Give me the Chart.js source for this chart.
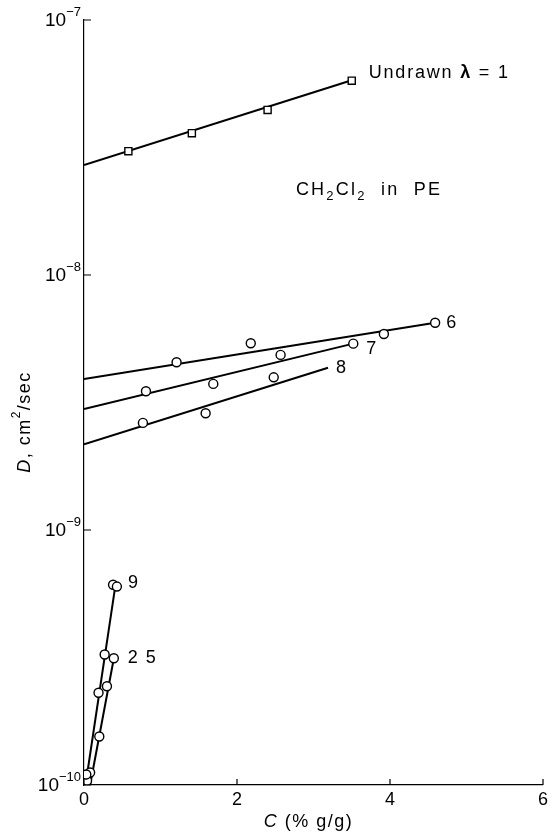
<!DOCTYPE html>
<html>
<head>
<meta charset="utf-8">
<script src="https://cdn.jsdelivr.net/npm/chart.js@4.4.0/dist/chart.umd.min.js"></script>
<style>
html, body { margin: 0; padding: 0; background: #fff; }
#wrap { width: 552px; height: 836px; }
</style>
</head>
<body>
<div id="wrap"><canvas id="diffusion"></canvas></div>
<script>
"use strict";

var FONT = "'Liberation Sans', 'DejaVu Sans', sans-serif";

// axis ticks
var xTicks = [0, 2, 4, 6];
var yTicks = [1e-10, 1e-9, 1e-8, 1e-7];

// undrawn, lambda = 1 (squares)
var undrawnC = [0.58, 1.41, 2.40, 3.50];
var undrawnD = [3.06e-8, 3.6e-8, 4.44e-8, 5.78e-8];
var undrawnFitC = [0, 3.50];
var undrawnFitD = [2.7e-8, 5.8e-8];

// draw ratio 6
var r6C = [1.21, 2.18, 3.92, 4.59];
var r6D = [4.55e-9, 5.4e-9, 5.87e-9, 6.5e-9];
var r6FitC = [0, 4.59];
var r6FitD = [3.91e-9, 6.5e-9];

// draw ratio 7
var r7C = [0.81, 1.69, 2.57, 3.52];
var r7D = [3.5e-9, 3.74e-9, 4.86e-9, 5.38e-9];
var r7FitC = [0, 3.52];
var r7FitD = [2.98e-9, 5.38e-9];

// draw ratio 8
var r8C = [0.77, 1.59, 2.48];
var r8D = [2.63e-9, 2.87e-9, 3.97e-9];
var r8FitC = [0, 3.19];
var r8FitD = [2.17e-9, 4.33e-9];

// draw ratio 9
var r9C = [0.38, 0.43, 0.27, 0.19, 0.03];
var r9D = [6.1e-10, 6.0e-10, 3.25e-10, 2.3e-10, 1.1e-10];
var r9FitC = [0.02, 0.41];
var r9FitD = [1.0e-10, 6.05e-10];

// draw ratio 25
var r25C = [0.39, 0.30, 0.20, 0.08, 0.04];
var r25D = [3.14e-10, 2.44e-10, 1.55e-10, 1.12e-10, 1.04e-10];
var r25FitC = [0.08, 0.39];
var r25FitD = [1.0e-10, 3.14e-10];

function pts(cs, ds) {
    var out = [];
    for (var i = 0; i < cs.length && i < ds.length; i++) {
        out.push({x: cs[i], y: ds[i]});
    }
    return out;
}

function fitLine(cs, ds) {
    return {
        type: 'line',
        data: pts(cs, ds),
        showLine: true,
        borderColor: '#000',
        borderWidth: 2,
        pointRadius: 0,
        fill: false,
        order: 2
    };
}

function marks(cs, ds, style) {
    return {
        type: 'scatter',
        data: pts(cs, ds),
        showLine: false,
        pointStyle: style,
        pointRadius: style === 'rect' ? 5 : 4.5,
        pointBackgroundColor: '#fff',
        pointBorderColor: '#000',
        pointBorderWidth: 1.4,
        order: 1
    };
}

function f(size, style) {
    return (style ? style + ' ' : '') + size + 'px ' + FONT;
}

// draws a row of text pieces (font / vertical shift), aligned on x
function drawRuns(ctx, runs, x, y, align, spacing) {
    ctx.letterSpacing = (spacing || 0) + 'px';
    var w = 0;
    runs.forEach(function (r) { ctx.font = r.f; w += ctx.measureText(r.t).width; });
    var cx = align === 'center' ? x - w / 2 : (align === 'right' ? x - w : x);
    ctx.textAlign = 'left';
    runs.forEach(function (r) {
        ctx.font = r.f;
        ctx.fillText(r.t, cx, y + (r.dy || 0));
        cx += ctx.measureText(r.t).width;
    });
    ctx.letterSpacing = '0px';
}

// inward tick marks, power labels, titles and curve labels
var decorations = {
    id: 'decorations',
    afterDatasetsDraw: function (chart) {
        var ctx = chart.ctx, xs = chart.scales.x, ys = chart.scales.y;
        ctx.save();
        ctx.strokeStyle = '#000';
        ctx.lineWidth = 1.2;
        ctx.beginPath();
        xTicks.forEach(function (v) {
            var px = xs.getPixelForValue(v);
            ctx.moveTo(px, ys.bottom);
            ctx.lineTo(px, ys.bottom - 6);
        });
        yTicks.forEach(function (v) {
            var py = ys.getPixelForValue(v);
            ctx.moveTo(xs.left, py);
            ctx.lineTo(xs.left + 7, py);
        });
        ctx.stroke();

        ctx.fillStyle = '#000';
        ctx.textBaseline = 'middle';

        // y tick labels 10^n
        yTicks.forEach(function (v) {
            var e = String(Math.round(Math.log10(v)));
            var py = ys.getPixelForValue(v);
            drawRuns(ctx, [{t: '10', f: f(19)}, {t: e.replace('-', '\u2212'), f: f(13), dy: -9}],
                     xs.left - 3, py + 1, 'right', 0);
        });

        // axis titles
        drawRuns(ctx, [{t: 'C', f: f(18, 'italic')}, {t: ' (% g/g)', f: f(18)}],
                 (xs.left + xs.right) / 2 - 5, 822, 'center', 1.5);
        ctx.save();
        ctx.translate(25, 422);
        ctx.rotate(-Math.PI / 2);
        drawRuns(ctx, [{t: 'D', f: f(18, 'italic')}, {t: ', cm', f: f(18)},
                       {t: '2', f: f(12), dy: -8}, {t: '/sec', f: f(18)}], 0, 0, 'center', 1.5);
        ctx.restore();

        function at(c, d, dx, dy, text) {
            drawRuns(ctx, [{t: text, f: f(18)}], xs.getPixelForValue(c) + dx, ys.getPixelForValue(d) + dy, 'left', 0);
        }
        at(r6C[3], r6D[3], 11, 0, '6');
        at(r7C[3], r7D[3], 13, 5, '7');
        at(r8FitC[1], r8FitD[1], 8, 0, '8');
        at(r9C[1], r9D[1], 11, -4, '9');
        drawRuns(ctx, [{t: '2 5', f: f(18)}], xs.getPixelForValue(r25C[0]) + 14,
                 ys.getPixelForValue(r25D[0]), 'left', 1.5);

        // Undrawn lambda = 1
        drawRuns(ctx, [{t: 'Undrawn ', f: f(18)}, {t: '\u03BB', f: f(18, 'bold')}, {t: ' = 1', f: f(18)}],
                 xs.getPixelForValue(undrawnC[3]) + 17, ys.getPixelForValue(undrawnD[3]) - 8, 'left', 1.8);

        // CH2Cl2 in PE
        drawRuns(ctx, [{t: 'CH', f: f(18)}, {t: '2', f: f(13), dy: 6}, {t: 'Cl', f: f(18)},
                       {t: '2', f: f(13), dy: 6}, {t: '  in  PE', f: f(18)}],
                 xs.getPixelForValue(2.77), ys.getPixelForValue(2.15e-8), 'left', 2.2);
        ctx.restore();
    }
};

new Chart(document.getElementById('diffusion').getContext('2d'), {
    type: 'scatter',
    data: {
        datasets: [
            fitLine(undrawnFitC, undrawnFitD), marks(undrawnC, undrawnD, 'rect'),
            fitLine(r6FitC, r6FitD), marks(r6C, r6D, 'circle'),
            fitLine(r7FitC, r7FitD), marks(r7C, r7D, 'circle'),
            fitLine(r8FitC, r8FitD), marks(r8C, r8D, 'circle'),
            fitLine(r9FitC, r9FitD), marks(r9C, r9D, 'circle'),
            fitLine(r25FitC, r25FitD), marks(r25C, r25D, 'circle')
        ]
    },
    options: {
        responsive: true,
        maintainAspectRatio: false,
        animation: false,
        layout: {padding: {top: 20, right: 6, left: 0, bottom: 0}},
        plugins: {
            legend: {display: false},
            tooltip: {enabled: false}
        },
        scales: {
            x: {
                type: 'linear',
                min: 0,
                max: 6,
                afterBuildTicks: function (s) { s.ticks = xTicks.map(function (v) { return {value: v}; }); },
                afterFit: function (s) { s.height = 51; },
                ticks: {color: '#000', font: {family: FONT, size: 18}, padding: 4, maxRotation: 0},
                grid: {display: true, color: 'rgba(0,0,0,0)', drawTicks: false},
                border: {display: true, color: '#000', width: 1.2},
                title: {display: false}
            },
            y: {
                type: 'logarithmic',
                min: 1e-10,
                max: 1e-7,
                afterBuildTicks: function (s) { s.ticks = yTicks.map(function (v) { return {value: v}; }); },
                afterFit: function (s) { s.width = 84; },
                ticks: {display: false},
                grid: {display: true, color: 'rgba(0,0,0,0)', drawTicks: false},
                border: {display: true, color: '#000', width: 1.2},
                title: {display: false}
            }
        }
    },
    plugins: [decorations]
});
</script>
</body>
</html>
